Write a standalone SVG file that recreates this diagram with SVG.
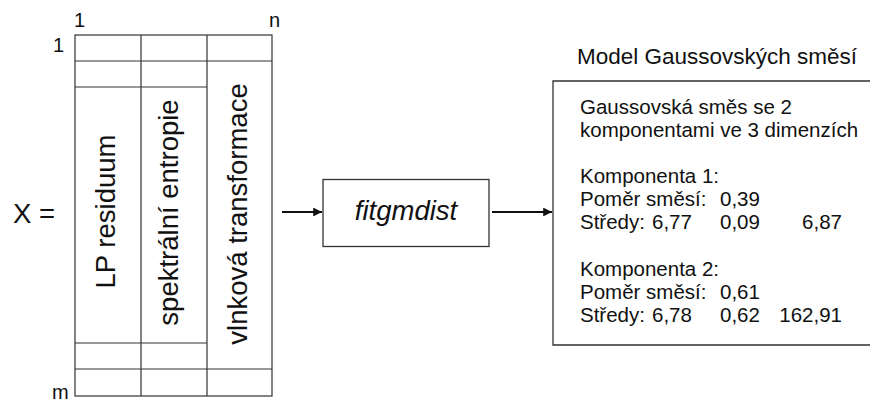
<svg xmlns="http://www.w3.org/2000/svg" width="870" height="401" viewBox="0 0 870 401">
<style>
text{font-family:"Liberation Sans",Arial,sans-serif;fill:#111}
.grid{fill:none;stroke:#333;stroke-width:1.2}
.box{fill:#fff;stroke:#333;stroke-width:1.3}
.lbl{font-size:20px}
.big{font-size:27.5px}
.body{font-size:20.5px}
.conn{stroke:#111;stroke-width:2.2;fill:none}
</style>
<defs>
<marker id="ah" viewBox="0 0 10 10" refX="10" refY="5" markerWidth="4" markerHeight="4" orient="auto" markerUnits="strokeWidth">
<path d="M0,0 L10,5 L0,10 z" fill="#111"/>
</marker>
</defs>
<g id="matrix">
<text class="big" x="13" y="223">X =</text>
<text class="lbl" x="74" y="27">1</text>
<text class="lbl" x="269" y="27">n</text>
<text class="lbl" x="53" y="52">1</text>
<text class="lbl" x="52" y="399">m</text>
<rect class="grid" x="75" y="35" width="197" height="361"/>
<path class="grid" d="M141,35V396M207,35V396M75,61H272M75,87H207M75,343H207M75,369H272"/>
<text class="big" transform="translate(115,211.5) rotate(-90)" text-anchor="middle">LP residuum</text>
<text class="big" transform="translate(178,212.5) rotate(-90)" text-anchor="middle">spektrální entropie</text>
<text class="big" transform="translate(247,214) rotate(-90)" text-anchor="middle">vlnková transformace</text>
</g>
<g id="fitgmdist">
<rect class="box" x="323" y="179.5" width="166" height="67"/>
<text class="big" x="406" y="220" text-anchor="middle" font-style="italic" font-size="27px">fitgmdist</text>
</g>
<g id="model">
<text x="577" y="64" font-size="22.5px">Model Gaussovských směsí</text>
<path class="box" d="M872,81H553V345H872"/>
<text class="body" x="580" y="114">Gaussovská směs se 2</text>
<text class="body" x="580" y="137">komponentami ve 3 dimenzích</text>
<text class="body" x="580" y="183">Komponenta 1:</text>
<text class="body" x="580" y="206">Poměr směsí:</text>
<text class="body" x="720" y="206">0,39</text>
<text class="body" x="580" y="229">Středy:</text>
<text class="body" x="652" y="229">6,77</text>
<text class="body" x="720" y="229">0,09</text>
<text class="body" x="842" y="229" text-anchor="end">6,87</text>
<text class="body" x="580" y="276">Komponenta 2:</text>
<text class="body" x="580" y="299">Poměr směsí:</text>
<text class="body" x="720" y="299">0,61</text>
<text class="body" x="580" y="322">Středy:</text>
<text class="body" x="652" y="322">6,78</text>
<text class="body" x="720" y="322">0,62</text>
<text class="body" x="842" y="322" text-anchor="end">162,91</text>
</g>
<g id="connectors">
<line class="conn" x1="282" y1="212" x2="322" y2="212" marker-end="url(#ah)"/>
<line class="conn" x1="492" y1="212" x2="552" y2="212" marker-end="url(#ah)"/>
</g>
</svg>
